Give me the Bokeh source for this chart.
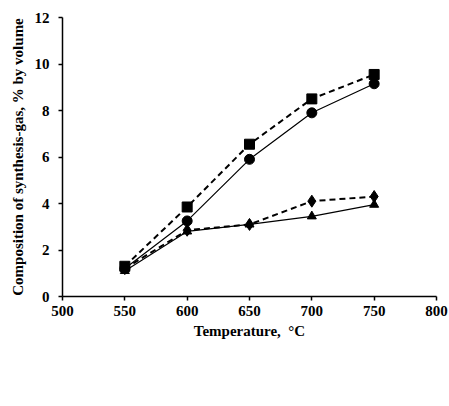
from bokeh.plotting import figure
from bokeh.models import Legend, LegendItem, FixedTicker, Range1d, Title
from bokeh.embed import file_html
from bokeh.resources import INLINE

temperature = [550, 600, 650, 700, 750]
co_087 = [1.1, 2.8, 3.1, 3.45, 3.95]
h2_087 = [1.2, 3.25, 5.9, 7.9, 9.15]
h2_55 = [1.3, 3.85, 6.55, 8.5, 9.55]
co_55 = [1.2, 2.85, 3.1, 4.1, 4.3]
x_ticks = [500, 550, 600, 650, 700, 750, 800]
y_ticks = [0, 2, 4, 6, 8, 10, 12]
labels = ["Carbon oxide (0,87:1)", "Hydrogen (0,87:1)", "Hydrogen (5,5:1)", "Carbon oxide (5,5:1)"]

FONT = "Liberation Serif"

p = figure(width=449, height=406, frame_width=374, frame_height=279,
           output_backend="svg", toolbar_location=None,
           x_range=Range1d(500, 800), y_range=Range1d(0, 12),
           min_border_left=62, min_border_right=13, min_border_top=17, min_border_bottom=5)
p.outline_line_color = None
p.xgrid.visible = False
p.ygrid.visible = False

for ax in (p.xaxis, p.yaxis):
    ax.axis_line_color = "black"
    ax.axis_line_width = 1.5
    ax.major_tick_line_color = "black"
    ax.major_tick_line_width = 1.5
    ax.major_tick_in = 0
    ax.major_tick_out = 4
    ax.minor_tick_line_color = None
    ax.major_label_text_font = FONT
    ax.major_label_text_font_style = "bold"
    ax.major_label_text_font_size = "15px"
    ax.major_label_text_color = "black"
    ax.axis_label_text_font = FONT
    ax.axis_label_text_font_style = "bold"
    ax.axis_label_text_font_size = "15px"
    ax.axis_label_text_color = "black"

p.xaxis.ticker = FixedTicker(ticks=x_ticks)
p.yaxis.ticker = FixedTicker(ticks=y_ticks)
p.xaxis.axis_label = "Temperature,\u00a0 °C"
p.yaxis.axis_label = "Composition of synthesis-gas, % by volume"
p.xaxis.major_label_standoff = 5
p.yaxis.major_label_standoff = 9
p.xaxis.axis_label_standoff = 4
p.yaxis.axis_label_standoff = 6

l1 = p.line(temperature, co_087, line_color="black", line_width=1.2)
m1 = p.scatter(temperature, co_087, marker="triangle", size=9, fill_color="black", line_color="black")
l2 = p.line(temperature, h2_087, line_color="black", line_width=1.2)
m2 = p.scatter(temperature, h2_087, marker="circle", size=10, fill_color="black", line_color="black")
l3 = p.line(temperature, h2_55, line_color="black", line_width=2, line_dash="6 4")
m3 = p.scatter(temperature, h2_55, marker="square", size=10, fill_color="black", line_color="black")
l4 = p.line(temperature, co_55, line_color="black", line_width=2, line_dash="6 4")
m4 = p.scatter(temperature, co_55, marker="diamond", size=12, fill_color="black", line_color="black")
groups = [[l1, m1], [l2, m2], [l3, m3], [l4, m4]]

# empty spacer between axis label and legend
spacer = Title(text=" ", text_font_size="16px", standoff=0)
p.add_layout(spacer, "below")

order = [0, 2, 1, 3]
legend = Legend(items=[LegendItem(label=labels[i], renderers=groups[i]) for i in order], ncols=2)
legend.label_text_font = FONT
legend.label_text_font_size = "17px"
legend.label_text_color = "black"
legend.glyph_width = 34
legend.glyph_height = 18
legend.label_standoff = 2
legend.spacing = 2
legend.padding = 0
legend.margin = 0
legend.label_height = 18
legend.border_line_color = None
legend.background_fill_alpha = 0
legend.location = "top_left"
p.add_layout(legend, "below")

open("out.html", "w").write(file_html(p, INLINE))
